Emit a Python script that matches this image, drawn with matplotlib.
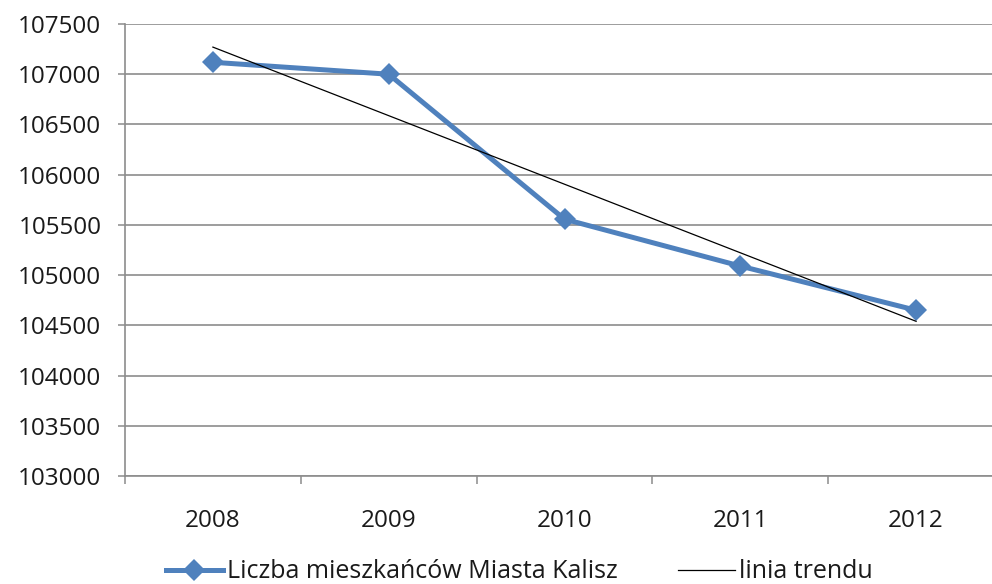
import matplotlib.pyplot as plt
from matplotlib.ticker import FixedLocator

plt.rcParams['font.family'] = ['Open Sans', 'DejaVu Sans']

# population of Kalisz by year
years = ['2008', '2009', '2010', '2011', '2012']
population = [107119, 107000, 105557, 105090, 104650]

# linear trend, end values at first and last year
trend_years = [0, 4]
trend_values = [107270, 104540]

y_ticks = list(range(103000, 108000, 500))

fig = plt.figure(figsize=(9.92, 5.84), dpi=100)
ax = fig.add_axes([125 / 992, 108 / 584, 879 / 992, 452 / 584])

x = list(range(len(years)))
ax.plot(x, population, color='#4F81BD', linewidth=3.6, marker='D', markersize=11.5,
        markeredgewidth=0, label='Liczba mieszkańców Miasta Kalisz', zorder=3)
ax.plot(trend_years, trend_values, color='black', linewidth=0.9,
        label='linia trendu', zorder=4)

ax.set_xlim(-0.5, len(years) - 0.5)
ax.set_ylim(103000, 107500)
ax.set_yticks(y_ticks)
ax.set_yticklabels([str(v) for v in y_ticks])
ax.set_xticks(x)
ax.set_xticklabels(years)
# category boundaries get the tick marks
ax.xaxis.set_minor_locator(FixedLocator([i - 0.5 for i in range(len(years) + 1)]))

ax.grid(axis='y', color='#8c8c8c', linewidth=1.2)
ax.set_axisbelow(True)

for side in ['top', 'right']:
    ax.spines[side].set_visible(False)
for side in ['left', 'bottom']:
    ax.spines[side].set_color('#8c8c8c')
    ax.spines[side].set_linewidth(1.2)

ax.tick_params(axis='y', which='major', length=5, width=1.1, color='#8c8c8c',
               pad=12, labelsize=17.5, labelcolor='#1a1a1a')
ax.tick_params(axis='x', which='major', length=0, pad=24, labelsize=17.5,
               labelcolor='#1a1a1a')
ax.tick_params(axis='x', which='minor', length=6, width=1.1, color='#8c8c8c')

fig.legend(loc='center', bbox_to_anchor=(519 / 992, 12 / 584), ncol=2, frameon=False,
           fontsize=18, handlelength=2.3, handletextpad=0.15, columnspacing=2.4,
           labelcolor='#1a1a1a')

fig.savefig('out.png', dpi=100)
